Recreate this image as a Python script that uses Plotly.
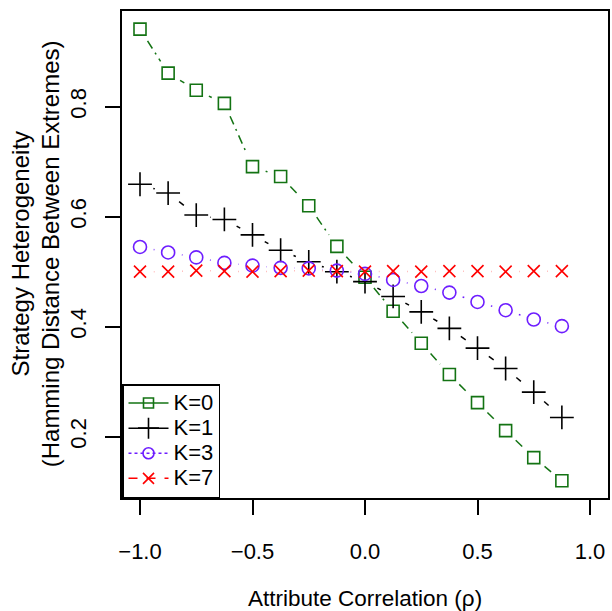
import math
import plotly.graph_objects as go

# ---- data ----
rho = [-1.0, -0.875, -0.75, -0.625, -0.5, -0.375, -0.25, -0.125,
       0.0, 0.125, 0.25, 0.375, 0.5, 0.625, 0.75, 0.875]
k0 = [0.941, 0.861, 0.830, 0.806, 0.691, 0.673, 0.620, 0.546,
      0.490, 0.428, 0.370, 0.313, 0.262, 0.211, 0.162, 0.120]
k1 = [0.659, 0.643, 0.603, 0.595, 0.567, 0.539, 0.518, 0.500,
      0.482, 0.455, 0.427, 0.397, 0.361, 0.324, 0.281, 0.235]
k3 = [0.545, 0.535, 0.526, 0.516, 0.511, 0.507, 0.506, 0.502,
      0.496, 0.485, 0.474, 0.462, 0.445, 0.430, 0.413, 0.401]
k7 = [0.500, 0.500, 0.502, 0.501, 0.500, 0.501, 0.502, 0.501,
      0.500, 0.501, 0.500, 0.501, 0.501, 0.500, 0.501, 0.501]
series_names = ["K=0", "K=1", "K=3", "K=7"]
x_ticks = [-1.0, -0.5, 0.0, 0.5, 1.0]
x_ticklabels = ["\u22121.0", "\u22120.5", "0.0", "0.5", "1.0"]
y_ticks = [0.2, 0.4, 0.6, 0.8]
y_ticklabels = ["0.2", "0.4", "0.6", "0.8"]

# ---- layout geometry ----
W, H = 612, 611
ML, MR, MT, MB = 122, 2, 11, 113
XR = [-1.08, 1.08]
YR = [0.0885, 0.974]
pw, ph = W - ML - MR, H - MT - MB
sx = pw / (XR[1] - XR[0])
sy = ph / (YR[1] - YR[0])

FONT = "Liberation Sans, Arial, Helvetica, sans-serif"
GREEN = "#137313"
PURPLE = "#6E1EFF"
RED = "#FF0000"
BLACK = "#000000"


def gapped(xs, ys, gap=14.0):
    """R type='b' style: line segments leaving a gap around each point."""
    ox, oy = [], []
    for i in range(len(xs) - 1):
        dx = (xs[i + 1] - xs[i]) * sx
        dy = (ys[i + 1] - ys[i]) * sy
        L = math.hypot(dx, dy)
        if L <= 2 * gap:
            continue
        t = gap / L
        ox += [xs[i] + t * (xs[i + 1] - xs[i]), xs[i + 1] - t * (xs[i + 1] - xs[i]), None]
        oy += [ys[i] + t * (ys[i + 1] - ys[i]), ys[i + 1] - t * (ys[i + 1] - ys[i]), None]
    return ox, oy


specs = [
    # name, values, color, plot dash, legend dash, symbol, size, legend size
    ("K=0", k0, GREEN, "9px,5px,2px,5px", "solid", "square-open", 12, 10),
    ("K=1", k1, BLACK, "6px,5px,2px,5px", "solid", "cross-thin", 17, 15),
    ("K=3", k3, PURPLE, "2px,5px", "dot", "circle-open", 13, 11),
    ("K=7", k7, RED, "6px,5px", "dash", "x-thin", 12, 11),
]

fig = go.Figure()
for name, vals, col, pdash, ldash, sym, msize, lsize in specs:
    gx, gy = gapped(rho, vals)
    fig.add_trace(go.Scatter(x=gx, y=gy, mode="lines", showlegend=False,
                             line=dict(color=col, width=1.5, dash=pdash),
                             hoverinfo="skip"))
    fig.add_trace(go.Scatter(x=rho, y=vals, mode="markers", showlegend=False,
                             marker=dict(symbol=sym, size=msize, color=col,
                                         line=dict(color=col, width=1.6))))
    # legend sample
    fig.add_trace(go.Scatter(x=[None], y=[None], mode="lines+markers",
                             name='<span style="font-size:22px">%s</span>' % name,
                             line=dict(color=col, width=1.5, dash=ldash),
                             marker=dict(symbol=sym, size=lsize, color=col,
                                         line=dict(color=col, width=1.6))))

fig.update_layout(
    width=W, height=H,
    margin=dict(l=ML, r=MR, t=MT, b=MB),
    paper_bgcolor="white", plot_bgcolor="white",
    font=dict(family=FONT, size=22, color="black"),
    showlegend=True,
    legend=dict(x=0, y=0, xanchor="left", yanchor="bottom",
                bgcolor="white", bordercolor="black", borderwidth=1.5,
                font=dict(family=FONT, size=17), itemwidth=40,
                tracegroupgap=0),
    xaxis=dict(range=XR, tickvals=x_ticks, ticktext=x_ticklabels,
               showgrid=False, zeroline=False,
               showline=True, linecolor="black", linewidth=1.8, mirror=True,
               ticks="outside", ticklen=15, tickwidth=1.6, tickcolor="black",
               ticklabelstandoff=18, tickfont=dict(size=22)),
    yaxis=dict(range=YR, tickvals=y_ticks, ticktext=y_ticklabels,
               showgrid=False, zeroline=False,
               showline=True, linecolor="black", linewidth=1.8, mirror=True,
               ticks="outside", ticklen=15, tickwidth=1.6, tickcolor="black",
               tickangle=-90, ticklabelstandoff=10, tickfont=dict(size=22)),
    annotations=[
        dict(text="Attribute Correlation (\u03c1)", xref="paper", yref="paper",
             x=0.5, y=-(598 - (H - MB)) / ph, showarrow=False,
             xanchor="center", yanchor="middle", font=dict(size=22.5)),
        dict(text="Strategy Heterogeneity", xref="paper", yref="paper",
             x=(20 - ML) / pw, y=(H - MB - 254) / ph, showarrow=False, textangle=-90,
             xanchor="center", yanchor="middle", font=dict(size=24)),
        dict(text="(Hamming Distance Between Extremes)", xref="paper", yref="paper",
             x=(50 - ML) / pw, y=(H - MB - 254) / ph, showarrow=False, textangle=-90,
             xanchor="center", yanchor="middle", font=dict(size=24)),
    ],
)

fig.write_html("out.html")
